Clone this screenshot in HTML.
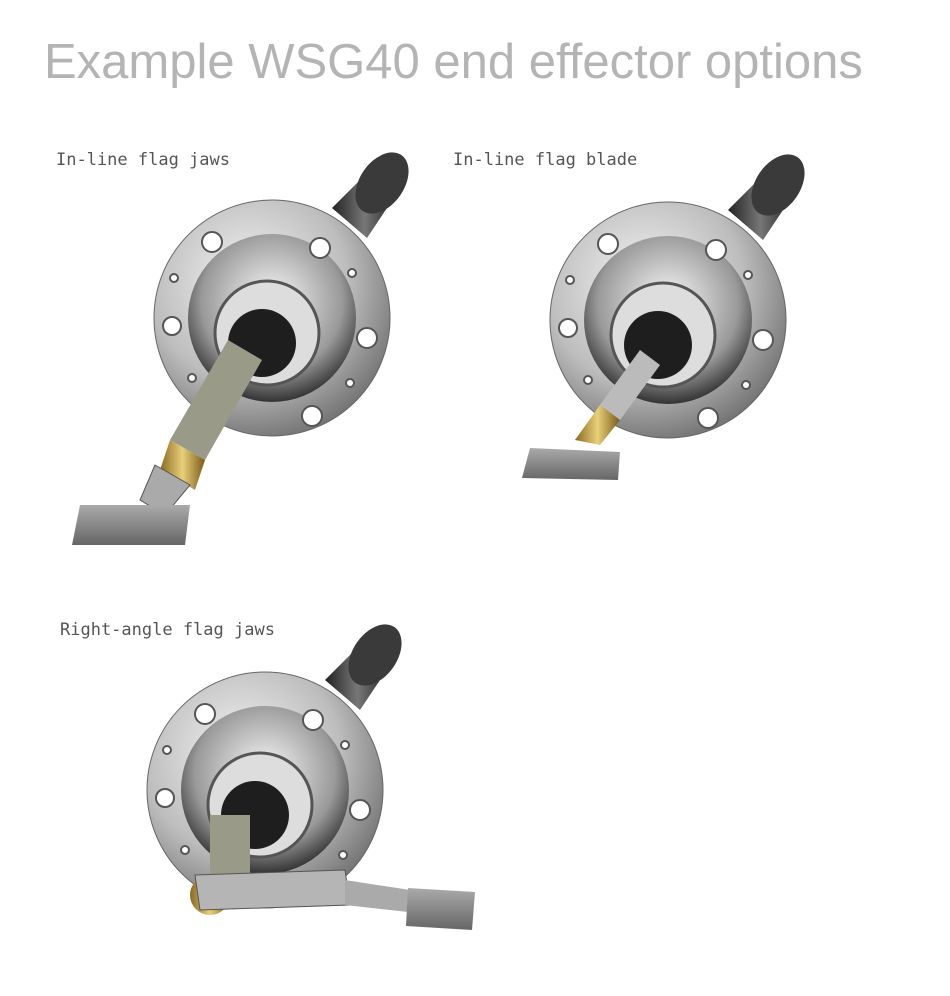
<!DOCTYPE html>
<html><head><meta charset="utf-8"><style>
html,body{margin:0;padding:0;background:#fff;width:950px;height:996px;overflow:hidden}
.t{position:absolute;left:44px;top:34px;font-family:"Liberation Sans",sans-serif;font-size:49px;color:#b4b4b4;font-weight:300;letter-spacing:0px}
.l{position:absolute;font-family:"DejaVu Sans Mono","Liberation Mono",monospace;font-size:17px;color:#555}
svg{position:absolute;left:0;top:0}
</style></head><body>
<div class="t">Example WSG40 end effector options</div>
<div class="l" style="left:56px;top:150px">In-line flag jaws</div>
<div class="l" style="left:453px;top:150px">In-line flag blade</div>
<div class="l" style="left:60px;top:620px">Right-angle flag jaws</div>
<svg width="950" height="996">
<defs>
<radialGradient id="m" cx="40%" cy="35%" r="70%"><stop offset="0" stop-color="#f4f4f4"/><stop offset=".6" stop-color="#bdbdbd"/><stop offset="1" stop-color="#6e6e6e"/></radialGradient>
<radialGradient id="in" cx="50%" cy="40%" r="60%"><stop offset="0" stop-color="#fafafa"/><stop offset=".7" stop-color="#999"/><stop offset="1" stop-color="#333"/></radialGradient>
<linearGradient id="h" x1="0" x2="1"><stop offset="0" stop-color="#222"/><stop offset=".5" stop-color="#777"/><stop offset="1" stop-color="#222"/></linearGradient>
<linearGradient id="g" x1="0" x2="1"><stop offset="0" stop-color="#8a6a20"/><stop offset=".5" stop-color="#e8cf7a"/><stop offset="1" stop-color="#7a5a18"/></linearGradient>
<linearGradient id="p" x1="0" x2="0" y1="0" y2="1"><stop offset="0" stop-color="#aaa"/><stop offset="1" stop-color="#666"/></linearGradient>
<g id="fl">
<path d="M60,-110 L95,-145 L125,-125 L95,-80Z" fill="url(#h)"/>
<ellipse cx="110" cy="-135" rx="22" ry="34" transform="rotate(35 110 -135)" fill="#3a3a3a"/>
<circle r="118" fill="url(#m)" stroke="#666"/>
<circle r="84" fill="url(#in)"/>
<circle cx="-5" cy="15" r="52" fill="#ddd" stroke="#555" stroke-width="3"/>
<circle cx="-10" cy="25" r="34" fill="#1e1e1e"/>
<g fill="#fff" stroke="#555" stroke-width="2">
<circle cx="-60" cy="-76" r="10"/><circle cx="48" cy="-70" r="10"/><circle cx="95" cy="20" r="10"/><circle cx="40" cy="98" r="10"/><circle cx="-100" cy="8" r="9"/>
<circle cx="-98" cy="-40" r="4"/><circle cx="80" cy="-45" r="4"/><circle cx="78" cy="65" r="4"/><circle cx="-80" cy="60" r="4"/></g>
</g>
</defs>
<use href="#fl" x="272" y="318"/>
<use href="#fl" x="668" y="320"/>
<use href="#fl" x="265" y="790"/>
<path d="M228,340 L262,360 L205,460 L170,440Z" fill="#9a9a88"/>
<path d="M170,440 L205,460 L195,490 L160,470Z" fill="url(#g)"/>
<path d="M155,465 L190,485 L165,515 L140,500Z" fill="#aaa" stroke="#555"/>
<path d="M80,505 L190,505 L185,545 L72,545Z" fill="url(#p)"/>
<path d="M640,350 L660,365 L620,420 L600,405Z" fill="#bbb"/>
<path d="M600,405 L620,420 L600,445 L575,440Z" fill="url(#g)"/>
<path d="M530,448 L620,452 L618,480 L522,478Z" fill="url(#p)"/>
<rect x="210" y="815" width="40" height="60" fill="#9a9a88"/>
<ellipse cx="210" cy="895" rx="20" ry="20" fill="url(#g)"/>
<path d="M195,875 L345,870 L350,905 L200,910Z" fill="#b5b5b5" stroke="#555"/>
<path d="M345,880 L410,890 L408,912 L345,905Z" fill="#aaa"/>
<path d="M408,888 L475,892 L472,930 L406,926Z" fill="url(#p)"/>
</svg>
</body></html>
